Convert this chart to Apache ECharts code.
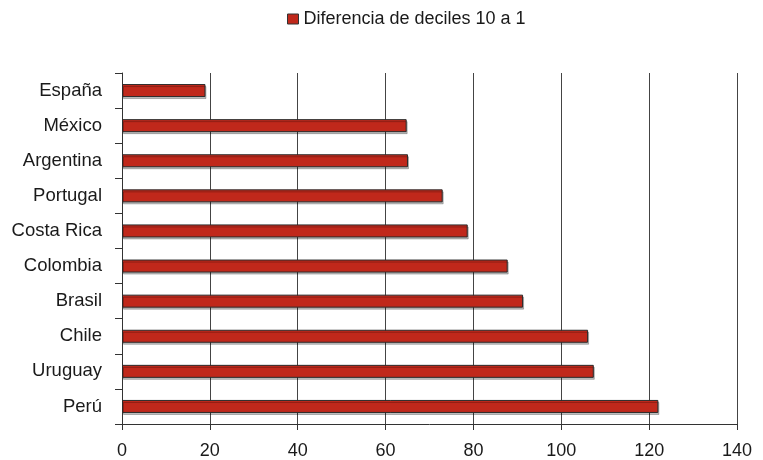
<!DOCTYPE html>
<html>
<head>
<meta charset="utf-8">
<script src="https://cdn.jsdelivr.net/npm/echarts@6/dist/echarts.min.js"></script>
<style>html,body{margin:0;padding:0;background:#fff}#c{width:763px;height:460px}</style>
</head>
<body>
<div id="c"></div>
<script>
const categories = ['España', 'México', 'Argentina', 'Portugal', 'Costa Rica', 'Colombia', 'Brasil', 'Chile', 'Uruguay', 'Perú'];
const values = [19.0, 64.8, 65.1, 73.0, 78.7, 87.8, 91.3, 106.1, 107.4, 122.1];
const seriesName = 'Diferencia de deciles 10 a 1';
const xTicks = [0, 20, 40, 60, 80, 100, 120, 140];

const font = 'Liberation Sans, Arial, sans-serif';
const chart = echarts.init(document.getElementById('c'), null, {renderer: 'canvas'});
chart.setOption({
  animation: false,
  backgroundColor: '#fff',
  legend: {
    data: [seriesName],
    left: 282, top: 5,
    itemWidth: 11, itemHeight: 10, itemGap: 10,
    icon: 'rect',
    itemStyle: {borderColor: '#333', borderWidth: 1},
    textStyle: {fontFamily: font, fontSize: 18, color: '#1a1a1a'}
  },
  grid: {left: 122, right: 26, top: 73, bottom: 36, containLabel: false},
  xAxis: {
    type: 'value', min: xTicks[0], max: xTicks[xTicks.length - 1], interval: 20,
    axisLine: {show: true, lineStyle: {color: '#333', width: 1}},
    axisTick: {show: true, length: 6, lineStyle: {color: '#333'}},
    axisLabel: {fontFamily: font, fontSize: 18, color: '#1a1a1a', margin: 18},
    splitLine: {show: true, lineStyle: {color: '#444', width: 1}}
  },
  yAxis: {
    type: 'category', data: categories, inverse: true,
    axisLine: {show: true, lineStyle: {color: '#333', width: 1}},
    axisTick: {show: true, length: 7, inside: false, lineStyle: {color: '#333'}},
    axisLabel: {fontFamily: font, fontSize: 18.5, color: '#1a1a1a', margin: 20},
    splitLine: {show: false}
  },
  series: [{
    name: seriesName, type: 'bar', data: values, barWidth: 13,
    itemStyle: {
      color: '#C0281B', borderColor: '#2a2a2a', borderWidth: 1,
      shadowColor: 'rgba(0,0,0,0.25)', shadowOffsetX: 1, shadowOffsetY: 2, shadowBlur: 0
    }
  }]
});
</script>
</body>
</html>
